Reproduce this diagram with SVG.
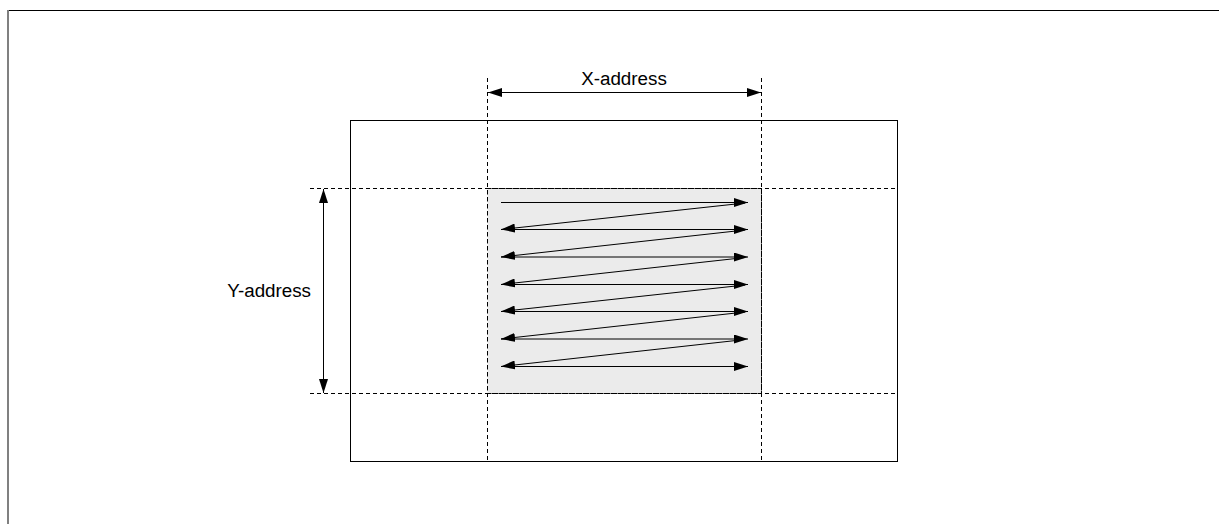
<svg xmlns="http://www.w3.org/2000/svg" width="1219" height="524" viewBox="0 0 1219 524">
  <style>
    .frame-top { stroke: #000; stroke-width: 1; fill: none; }
    .frame-side { stroke: #808080; stroke-width: 2; fill: none; }
    .solid { stroke: #000; stroke-width: 1; fill: none; }
    .dash { stroke: #000; stroke-width: 1; stroke-dasharray: 4 3; fill: none; }
    .scan { stroke: #000; stroke-width: 1; fill: none; }
    .label { font-family: "Liberation Sans", Arial, sans-serif; font-size: 18.8px; fill: #000; }
  </style>
  <defs>
    <marker id="arrow" viewBox="0 0 14 9" refX="14" refY="4.5" markerWidth="14" markerHeight="9" markerUnits="userSpaceOnUse" orient="auto-start-reverse">
      <path d="M0,0 L14,4.5 L0,9 Z" fill="#000"/>
    </marker>
  </defs>

  <rect x="0" y="0" width="1219" height="524" fill="#fff"/>

  <!-- page frame -->
  <g id="frame">
    <line class="frame-top" x1="8" y1="10.5" x2="1219" y2="10.5"/>
    <line class="frame-side" x1="8" y1="10" x2="8" y2="524"/>
  </g>

  <!-- full image area -->
  <g id="image-area">
    <rect class="solid" x="350.5" y="120.5" width="547" height="341"/>
  </g>

  <!-- addressed window -->
  <g id="window">
    <rect x="487.5" y="188.5" width="274" height="205" fill="#ebebeb" stroke="none"/>
  </g>

  <!-- dashed guide lines -->
  <g id="guides">
    <line class="dash" x1="487.5" y1="78" x2="487.5" y2="462"/>
    <line class="dash" x1="761.5" y1="78" x2="761.5" y2="462"/>
    <line class="dash" x1="310" y1="188.5" x2="898" y2="188.5"/>
    <line class="dash" x1="310" y1="393.5" x2="898" y2="393.5"/>
  </g>

  <!-- dimension arrows and scan path -->
  <g id="connectors">
    <line class="solid" x1="488" y1="92.5" x2="761" y2="92.5" marker-start="url(#arrow)" marker-end="url(#arrow)"/>
    <line class="solid" x1="323.5" y1="189" x2="323.5" y2="393" marker-start="url(#arrow)" marker-end="url(#arrow)"/>

    <g id="scan-rows">
      <line class="scan" x1="501" y1="202.5" x2="748" y2="202.5" marker-end="url(#arrow)"/>
      <line class="scan" x1="501" y1="229.5" x2="748" y2="229.5" marker-end="url(#arrow)"/>
      <line class="scan" x1="501" y1="257" x2="748" y2="257" marker-end="url(#arrow)"/>
      <line class="scan" x1="501" y1="284.5" x2="748" y2="284.5" marker-end="url(#arrow)"/>
      <line class="scan" x1="501" y1="311.5" x2="748" y2="311.5" marker-end="url(#arrow)"/>
      <line class="scan" x1="501" y1="339" x2="748" y2="339" marker-end="url(#arrow)"/>
      <line class="scan" x1="501" y1="366.5" x2="748" y2="366.5" marker-end="url(#arrow)"/>
    </g>
    <g id="scan-returns">
      <line class="scan" x1="745" y1="203" x2="501" y2="229.5" marker-end="url(#arrow)"/>
      <line class="scan" x1="745" y1="230" x2="501" y2="257" marker-end="url(#arrow)"/>
      <line class="scan" x1="745" y1="257.5" x2="501" y2="284.5" marker-end="url(#arrow)"/>
      <line class="scan" x1="745" y1="285" x2="501" y2="311.5" marker-end="url(#arrow)"/>
      <line class="scan" x1="745" y1="312" x2="501" y2="339" marker-end="url(#arrow)"/>
      <line class="scan" x1="745" y1="339.5" x2="501" y2="366.5" marker-end="url(#arrow)"/>
    </g>
  </g>

  <!-- window outline drawn over the scan path -->
  <g id="window-outline">
    <rect class="dash" x="487.5" y="188.5" width="274" height="205"/>
  </g>

  <!-- labels -->
  <g id="labels">
    <text class="label" x="624" y="85" text-anchor="middle">X-address</text>
    <text class="label" x="311" y="297" text-anchor="end">Y-address</text>
  </g>
</svg>
